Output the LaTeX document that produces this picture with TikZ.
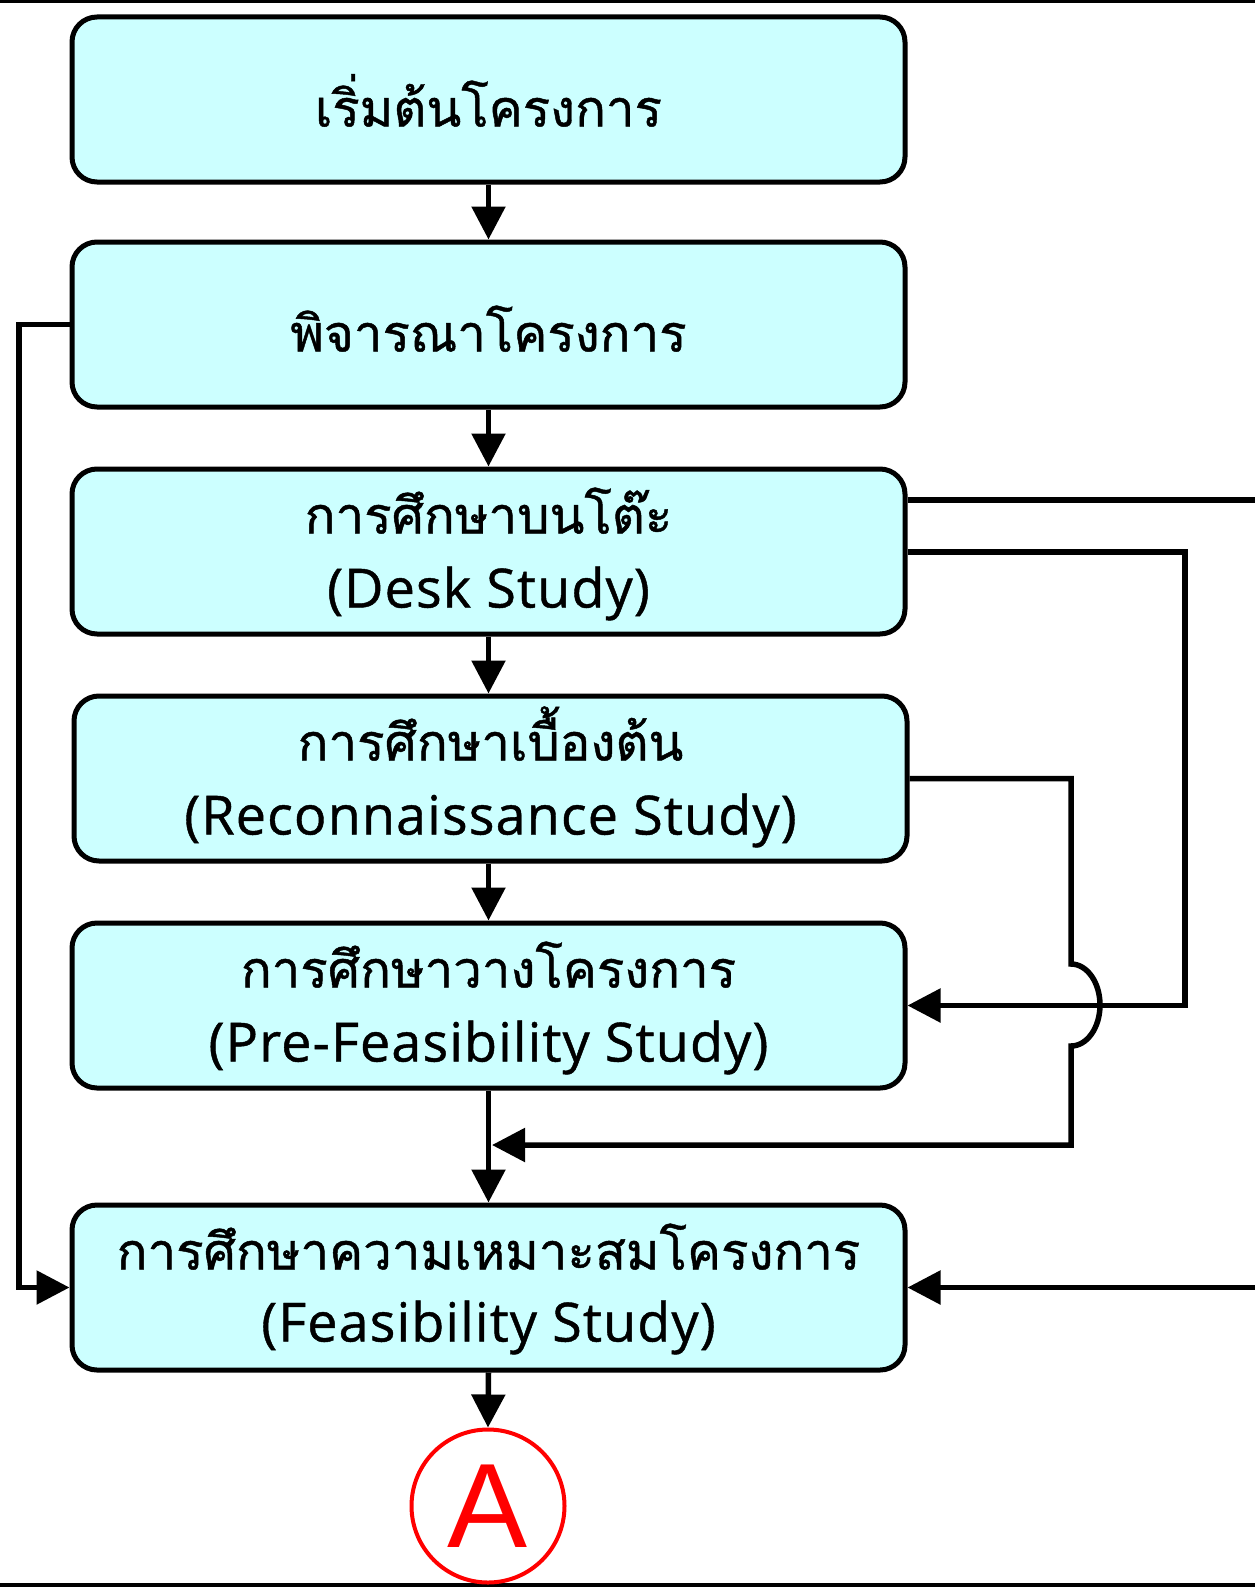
\documentclass[tikz,border=0pt]{standalone}
\usepackage{fontspec}
\usetikzlibrary{arrows.meta,calc}
\newfontfamily\thaifont[Script=Thai,FakeBold=0.9]{Loma}
\newfontfamily\latinfont[FakeBold=0.8,LetterSpace=2]{Open Sans}
\newfontfamily\markfont{Liberation Sans}
\definecolor{boxfill}{RGB}{204,255,255}
\definecolor{markred}{RGB}{255,0,0}
\tikzset{
  stepbox/.style={draw=black, line width=5pt, fill=boxfill, rounded corners=25pt,
    minimum width=833pt, minimum height=165pt, inner sep=0pt},
  thaitext/.style={anchor=base, inner sep=0pt, font=\thaifont\fontsize{51}{61}\selectfont},
  engtext/.style={anchor=base, inner sep=0pt, font=\latinfont\fontsize{54}{64}\selectfont},
  conn/.style={draw=black, line width=5.5pt},
  flow/.style={conn, -{Triangle[length=33pt,width=33pt]}},
}
\begin{document}
\begin{tikzpicture}[x=1pt,y=-1pt]
\useasboundingbox (0,0) rectangle (1255,1587);

% frame rules
\draw[line width=2.7pt] (0,1.35) -- (1255,1.35);
\draw[line width=3.5pt] (0,1585) -- (1255,1585);

% process steps
\node[stepbox] (b1) at (488.5,99.5) {};
\node[stepbox] (b2) at (488.5,324.5) {};
\node[stepbox] (b3) at (488.5,551.5) {};
\node[stepbox] (b4) at (490.5,778.5) {};
\node[stepbox] (b5) at (488.5,1005.5) {};
\node[stepbox] (b6) at (488.5,1287.5) {};

\node[thaitext] (t1) at (488.5,126.5) {เริ่มต้นโครงการ};
\node[thaitext] (t2) at (488.5,351.5) {พิจารณาโครงการ};
\node[thaitext] (t3) at (488.5,533.5) {การศึกษาบนโต๊ะ};
\node[engtext]  (e3) at (488.5,607.5) {(Desk Study)};
\node[thaitext] (t4) at (490.5,760.5) {การศึกษาเบื้องต้น};
\node[engtext]  (e4) at (490.5,834.5) {(Reconnaissance Study)};
\node[thaitext] (t5) at (488.5,987.5) {การศึกษาวางโครงการ};
\node[engtext]  (e5) at (488.5,1061.5) {(Pre-Feasibility Study)};
\node[thaitext] (t6) at (488.5,1269.5) {การศึกษาความเหมาะสมโครงการ};
\node[engtext]  (e6) at (488.5,1341.5) {(Feasibility Study)};

% connector marker
\node[circle, draw=markred, line width=4pt, minimum size=153pt, inner sep=0pt,
  text=markred, font=\markfont\fontsize{120}{120}\selectfont] (ma) at (488,1506) {A};

% helper points
\coordinate (lx) at (19,0);
\coordinate (r3top) at (1256,500);
\coordinate (r3x) at (1185,552);
\coordinate (k1) at (1071,964);
\coordinate (k3) at (1071,1145);
\coordinate (merge) at (492,1145);
\coordinate (r6) at (1256,1287.5);

% main flow
\draw[flow] (b1.south) -- (b2.north);
\draw[flow] (b2.south) -- (b3.north);
\draw[flow] (b3.south) -- (b4.north -| b3.south);
\draw[flow] (b4.south -| b3.south) -- (b5.north);
\draw[flow] (b5.south) -- (b6.north);
\draw[flow] (b6.south) -- (ma.north);

% bypass routes
\draw[flow] (b2.west) -| (lx |- b6.west) -- (b6.west);
\draw[conn] (b3.east |- r3top) -- (r3top);
\draw[flow] (b3.east |- r3x) -- (r3x) |- (b5.east);
\draw[flow] (b4.east) -| (k1)
  arc[start angle=90, end angle=-90, x radius=29pt, y radius=41pt]
  -- (k3) -- (merge);
\draw[flow] (r6) -- (b6.east);
\end{tikzpicture}
\end{document}
